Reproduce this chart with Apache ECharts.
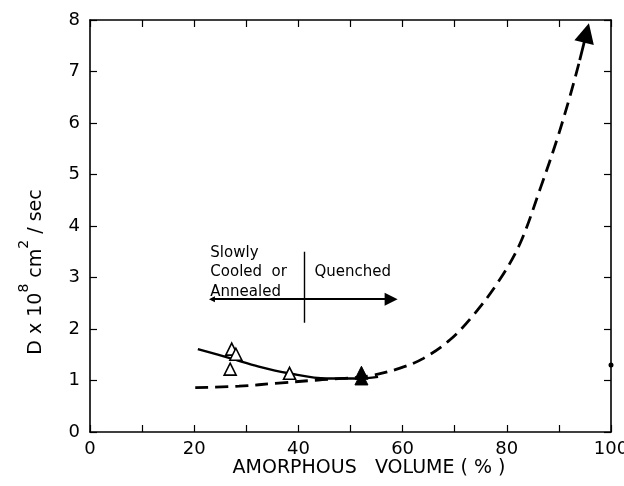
<!DOCTYPE html>
<html><head><meta charset="utf-8">
<script src="https://cdn.jsdelivr.net/npm/echarts@6/dist/echarts.min.js"></script>
<style>html,body{margin:0;padding:0;background:#fff}#c{width:624px;height:486px}</style>
</head><body><div id="c"></div>
<script>
// ---- data ----
const xLabelTicks = [0, 20, 40, 60, 80, 100];
const yLabelTicks = [0, 1, 2, 3, 4, 5, 6, 7, 8];
const xTitle = 'AMORPHOUS   VOLUME ( % )';
const yTitle = 'D x 10{s|8} cm{s|2} / sec';

// solid fitted curve (slowly cooled / annealed)
const solidX = [20.7, 27.0, 32.4, 38.2, 45.4, 51.5, 55.3];
const solidY = [1.61, 1.43, 1.27, 1.14, 1.04, 1.04, 1.07];

// dashed curve
const dashX = [20.2, 28.6, 36.2, 43.8, 48.4, 53.7, 59.5, 64.0, 69.1, 73.6, 78.4, 82.5, 86.5, 89.6, 92.1, 94.0];
const dashY = [0.86, 0.89, 0.95, 1.01, 1.04, 1.09, 1.24, 1.43, 1.79, 2.27, 2.92, 3.65, 4.75, 5.67, 6.51, 7.22];
// arrow head at end of dashed curve
const arrowFrom = [94.0, 7.22];
const arrowTo = [95.3, 7.75];

// open triangles
const openX = [27.2, 28.0, 26.9, 38.3];
const openY = [1.61, 1.51, 1.22, 1.14];
// filled triangles
const filledX = [52.1, 52.1];
const filledY = [1.15, 1.04];
// single dot on right axis
const dotX = [100];
const dotY = [1.30];

// annotation
const annotText = ['Slowly', 'Cooled  or', 'Annealed', 'Quenched'];
const annotX = [23.0, 23.0, 23.0, 43.0];
const annotY = [3.48, 3.11, 2.72, 3.11];
const dividerX = [41.2, 41.2];
const dividerY = [3.50, 2.12];
const regionArrowX = [23.4, 57.8];
const regionArrowY = [2.58, 2.58];

const zip = (a, b) => a.map((v, i) => [v, b[i]]);
const FONT = 'DejaVu Sans';

const chart = echarts.init(document.getElementById('c'));
const axisCommon = {
  axisLine: { show: true, onZero: false, lineStyle: { color: '#000', width: 1.6 } },
  axisTick: { show: true, inside: true, length: 7, lineStyle: { color: '#000', width: 1.2 } },
  splitLine: { show: false },
};
chart.setOption({
  animation: false,
  backgroundColor: '#fff',
  grid: { left: 90, right: 13, top: 20, bottom: 54, containLabel: false, outerBoundsMode: 'none' },
  xAxis: [
    Object.assign({}, axisCommon, {
      type: 'value', min: 0, max: 100, interval: 10, position: 'bottom',
      axisLabel: {
        color: '#000', fontFamily: FONT, fontSize: 18, margin: 8,
        formatter: v => (xLabelTicks.indexOf(v) >= 0 ? String(v) : '')
      }
    }),
    Object.assign({}, axisCommon, {
      type: 'value', min: 0, max: 100, interval: 10, position: 'top',
      axisLabel: { show: false }
    })
  ],
  yAxis: [
    Object.assign({}, axisCommon, {
      type: 'value', min: 0, max: 8, interval: 1, position: 'left',
      axisLabel: {
        color: '#000', fontFamily: FONT, fontSize: 18, margin: 10,
        formatter: v => (yLabelTicks.indexOf(v) >= 0 ? String(v) : '')
      }
    }),
    Object.assign({}, axisCommon, {
      type: 'value', min: 0, max: 8, interval: 1, position: 'right',
      axisLabel: { show: false }
    })
  ],
  graphic: [
    {
      type: 'text', x: 369, y: 468, z: 10,
      style: { text: xTitle, font: '19px "DejaVu Sans"', fill: '#000', align: 'center', verticalAlign: 'middle' }
    },
    {
      type: 'text', x: 36, y: 272, rotation: Math.PI / 2, z: 10,
      style: {
        text: yTitle, font: '19px "DejaVu Sans"', fill: '#000', align: 'center', verticalAlign: 'middle',
        rich: { s: { fontSize: 14, fontFamily: FONT, padding: [0, 0, 24, 0], fill: '#000' } }
      }
    }
  ],
  series: [
    {
      type: 'line', smooth: 0.35, data: zip(solidX, solidY), showSymbol: false, symbol: 'none',
      lineStyle: { color: '#000', width: 2.4 }, z: 3
    },
    {
      type: 'line', smooth: 0.35, data: zip(dashX, dashY), showSymbol: false, symbol: 'none',
      lineStyle: { color: '#000', width: 2.8, type: [13, 7] }, z: 3
    },
    {
      type: 'lines', coordinateSystem: 'cartesian2d', symbol: ['none', 'triangle'], symbolSize: [7, 20],
      lineStyle: { color: '#000', width: 2.8, opacity: 1 },
      data: [{ coords: [arrowFrom, arrowTo] }], z: 4
    },
    {
      type: 'lines', coordinateSystem: 'cartesian2d', symbol: ['triangle', 'triangle'], symbolSize: [6, 13],
      lineStyle: { color: '#000', width: 2.2, opacity: 1 },
      data: [{ coords: zip(regionArrowX, regionArrowY) }], z: 4
    },
    {
      type: 'lines', coordinateSystem: 'cartesian2d', symbol: 'none',
      lineStyle: { color: '#000', width: 1.4, opacity: 1 },
      data: [{ coords: zip(dividerX, dividerY) }], z: 4
    },
    {
      type: 'scatter', data: zip(openX, openY), symbol: 'triangle', symbolSize: 12,
      itemStyle: { color: '#fff', borderColor: '#000', borderWidth: 1.6, opacity: 1 }, z: 5
    },
    {
      type: 'scatter', data: zip(filledX, filledY), symbol: 'triangle', symbolSize: 13,
      itemStyle: { color: '#000', borderColor: '#000', borderWidth: 1, opacity: 1 }, z: 5
    },
    {
      type: 'scatter', data: zip(dotX, dotY), symbol: 'circle', symbolSize: 5,
      itemStyle: { color: '#000', opacity: 1 }, z: 5
    },
    {
      type: 'scatter', symbolSize: 1, symbol: 'circle',
      itemStyle: { color: 'rgba(0,0,0,0)' },
      data: annotText.map((t, i) => ({ name: t, value: [annotX[i], annotY[i]] })),
      label: {
        show: true, position: 'right', distance: 0, formatter: p => p.name,
        color: '#000', opacity: 1, fontFamily: FONT, fontSize: 15, textBorderWidth: 0
      }, z: 6
    }
  ]
});
</script>
</body></html>
